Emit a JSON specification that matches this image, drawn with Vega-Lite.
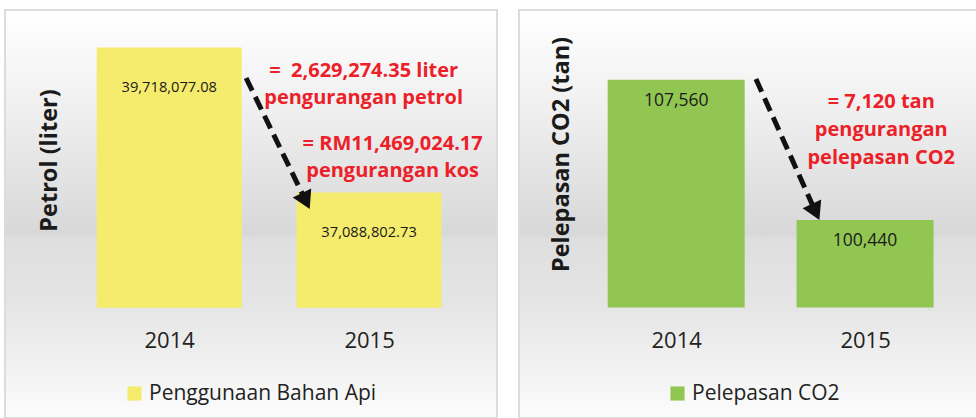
{
  "$schema": "https://vega.github.io/schema/vega-lite/v6.json",
  "padding": {"left": 4, "top": 9, "right": 0, "bottom": 0},
  "background": "white",
  "bounds": "flush",
  "spacing": 22,
  "config": {
    "font": "Open Sans",
    "view": {
      "stroke": "#dcdcdc",
      "strokeWidth": 2,
      "fill": {
        "gradient": "linear", "x1": 0, "y1": 0, "x2": 0, "y2": 1,
        "stops": [
          {"offset": 0, "color": "#ffffff"},
          {"offset": 0.25, "color": "#efefef"},
          {"offset": 0.55, "color": "#d8d8d8"},
          {"offset": 0.56, "color": "#dedede"},
          {"offset": 0.74, "color": "#e6e6e6"},
          {"offset": 1, "color": "#fcfcfc"}
        ]
      }
    }
  },
  "resolve": {
    "scale": {"x": "independent", "y": "independent", "color": "independent"},
    "legend": {"color": "independent"}
  },
  "hconcat": [
    {
      "width": 492,
      "height": 408,
      "layer": [
        {
          "data": {"values": [
            {"year": 2014, "value": 39718077.08, "series": "Penggunaan Bahan Api"},
            {"year": 2015, "value": 37088802.73, "series": "Penggunaan Bahan Api"}
          ]},
          "mark": {"type": "bar", "size": 145},
          "encoding": {
            "x": {"field": "year", "type": "quantitative",
              "scale": {"domain": [2013.2034, 2015.6152], "nice": false, "zero": false},
              "axis": {"values": [2014, 2015], "format": "d", "title": null, "domain": false, "ticks": false, "grid": false,
                "labelFontSize": 22, "labelColor": "#222222", "labelPadding": -78, "labelBaseline": "middle", "labelFlush": false}},
            "y": {"field": "value", "type": "quantitative",
              "scale": {"domain": [33000000, 40400000], "nice": false, "zero": false},
              "axis": {"labels": false, "ticks": false, "domain": false, "grid": false,
                "title": "Petrol (liter)", "titleFontSize": 23.5, "titleFontWeight": "bold", "titleColor": "#1a1a1a",
                "titleX": 44, "titleY": 150, "titleBaseline": "middle", "titleAngle": 270, "titleAlign": "center"}},
            "y2": {"datum": 35000000},
            "color": {"field": "series", "type": "nominal",
              "scale": {"range": ["#f5ec6e"]},
              "legend": {"orient": "none", "legendX": 119, "legendY": 373, "title": null, "symbolType": "square",
                "symbolSize": 200, "symbolStrokeWidth": 0, "labelFontSize": 21, "labelColor": "#222222", "labelLimit": 400}}
          }
        },
        {
          "data": {"values": [
            {"year": 2014, "value": 39718077.08},
            {"year": 2015, "value": 37088802.73}
          ]},
          "mark": {"type": "text", "dy": 40, "fontSize": 14.7, "color": "#1a1a1a"},
          "encoding": {
            "x": {"field": "year", "type": "quantitative", "scale": {"domain": [2013.2034, 2015.6152], "nice": false, "zero": false}},
            "y": {"field": "value", "type": "quantitative", "scale": {"domain": [33000000, 40400000], "nice": false, "zero": false}},
            "text": {"field": "value", "type": "quantitative", "format": ",.2f"}
          }
        },
        {
          "data": {"values": [
            {"year": 2014.973, "value": 39184804, "t": "=\u00a0 2,629,274.35 liter\npengurangan petrol"},
            {"year": 2015.118, "value": 37860785, "t": "= RM11,469,024.17\npengurangan kos"}
          ]},
          "mark": {"type": "text", "lineBreak": "\n", "fontWeight": "bold", "fontSize": 20, "color": "#ec2028",
            "align": "center", "baseline": "alphabetic", "lineHeight": 27},
          "encoding": {
            "x": {"field": "year", "type": "quantitative", "scale": {"domain": [2013.2034, 2015.6152], "nice": false, "zero": false}},
            "y": {"field": "value", "type": "quantitative", "scale": {"domain": [33000000, 40400000], "nice": false, "zero": false}},
            "text": {"field": "t", "type": "nominal"}
          }
        },
        {
          "data": {"values": [
            {"year": 2014.3848, "value": 39166667, "year2": 2014.6838, "value2": 36935785}
          ]},
          "mark": {"type": "rule", "strokeWidth": 5, "strokeDash": [14, 7], "color": "#111111"},
          "encoding": {
            "x": {"field": "year", "type": "quantitative", "scale": {"domain": [2013.2034, 2015.6152], "nice": false, "zero": false}},
            "y": {"field": "value", "type": "quantitative", "scale": {"domain": [33000000, 40400000], "nice": false, "zero": false}},
            "x2": {"field": "year2"},
            "y2": {"field": "value2"}
          }
        },
        {
          "data": {"values": [
            {"year": 2014.6838, "value": 36935785}
          ]},
          "mark": {"type": "point", "shape": "triangle-down", "angle": 334, "size": 420, "filled": true, "opacity": 1, "color": "#111111"},
          "encoding": {
            "x": {"field": "year", "type": "quantitative", "scale": {"domain": [2013.2034, 2015.6152], "nice": false, "zero": false}},
            "y": {"field": "value", "type": "quantitative", "scale": {"domain": [33000000, 40400000], "nice": false, "zero": false}}
          }
        }
      ]
    },
    {
      "width": 470,
      "height": 408,
      "layer": [
        {
          "data": {"values": [
            {"year": 2014, "value": 107560, "series": "Pelepasan CO2"},
            {"year": 2015, "value": 100440, "series": "Pelepasan CO2"}
          ]},
          "mark": {"type": "bar", "size": 137},
          "encoding": {
            "x": {"field": "year", "type": "quantitative",
              "scale": {"domain": [2013.1943, 2015.6296], "nice": false, "zero": false},
              "axis": {"values": [2014, 2015], "format": "d", "title": null, "domain": false, "ticks": false, "grid": false,
                "labelFontSize": 22, "labelColor": "#222222", "labelPadding": -78, "labelBaseline": "middle", "labelFlush": false}},
            "y": {"field": "value", "type": "quantitative",
              "scale": {"domain": [90400, 111100], "nice": false, "zero": false},
              "axis": {"labels": false, "ticks": false, "domain": false, "grid": false,
                "title": "Pelepasan CO2 (tan)", "titleFontSize": 23.5, "titleFontWeight": "bold", "titleColor": "#1a1a1a",
                "titleX": 42, "titleY": 144, "titleBaseline": "middle", "titleAngle": 270, "titleAlign": "center"}},
            "y2": {"datum": 96000},
            "color": {"field": "series", "type": "nominal",
              "scale": {"range": ["#92c652"]},
              "legend": {"orient": "none", "legendX": 148, "legendY": 373, "title": null, "symbolType": "square",
                "symbolSize": 200, "symbolStrokeWidth": 0, "labelFontSize": 21, "labelColor": "#222222", "labelLimit": 400}}
          }
        },
        {
          "data": {"values": [
            {"year": 2014, "value": 107560},
            {"year": 2015, "value": 100440}
          ]},
          "mark": {"type": "text", "dy": 21, "fontSize": 17.5, "color": "#1a1a1a"},
          "encoding": {
            "x": {"field": "year", "type": "quantitative", "scale": {"domain": [2013.1943, 2015.6296], "nice": false, "zero": false}},
            "y": {"field": "value", "type": "quantitative", "scale": {"domain": [90400, 111100], "nice": false, "zero": false}},
            "text": {"field": "value", "type": "quantitative", "format": ",d"}
          }
        },
        {
          "data": {"values": [
            {"year": 2015.0855, "value": 106128, "t": "= 7,120 tan\npengurangan\npelepasan CO2"}
          ]},
          "mark": {"type": "text", "lineBreak": "\n", "fontWeight": "bold", "fontSize": 20, "color": "#ec2028",
            "align": "center", "baseline": "alphabetic", "lineHeight": 28},
          "encoding": {
            "x": {"field": "year", "type": "quantitative", "scale": {"domain": [2013.1943, 2015.6296], "nice": false, "zero": false}},
            "y": {"field": "value", "type": "quantitative", "scale": {"domain": [90400, 111100], "nice": false, "zero": false}},
            "text": {"field": "t", "type": "nominal"}
          }
        },
        {
          "data": {"values": [
            {"year": 2014.4222, "value": 107599, "year2": 2014.7383, "value2": 100852}
          ]},
          "mark": {"type": "rule", "strokeWidth": 5, "strokeDash": [14, 7], "color": "#111111"},
          "encoding": {
            "x": {"field": "year", "type": "quantitative", "scale": {"domain": [2013.1943, 2015.6296], "nice": false, "zero": false}},
            "y": {"field": "value", "type": "quantitative", "scale": {"domain": [90400, 111100], "nice": false, "zero": false}},
            "x2": {"field": "year2"},
            "y2": {"field": "value2"}
          }
        },
        {
          "data": {"values": [
            {"year": 2014.7383, "value": 100852}
          ]},
          "mark": {"type": "point", "shape": "triangle-down", "angle": 335, "size": 420, "filled": true, "opacity": 1, "color": "#111111"},
          "encoding": {
            "x": {"field": "year", "type": "quantitative", "scale": {"domain": [2013.1943, 2015.6296], "nice": false, "zero": false}},
            "y": {"field": "value", "type": "quantitative", "scale": {"domain": [90400, 111100], "nice": false, "zero": false}}
          }
        }
      ]
    }
  ]
}
